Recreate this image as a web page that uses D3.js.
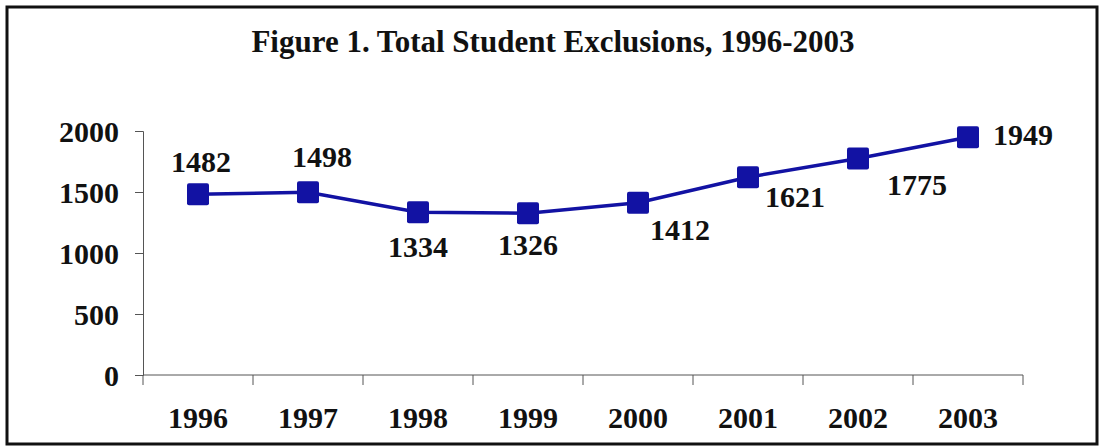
<!DOCTYPE html>
<html>
<head>
<meta charset="utf-8">
<script src="https://cdn.jsdelivr.net/npm/d3@7"></script>
<style>
  body { margin: 0; background: #fff; }
  svg text { font-family: "Liberation Serif", "Times New Roman", serif; font-weight: bold; fill: #111; }
</style>
</head>
<body>
<svg id="chart"></svg>
<script>
// values
const years = ['1996', '1997', '1998', '1999', '2000', '2001', '2002', '2003'];
const exclusions = [1482, 1498, 1334, 1326, 1412, 1621, 1775, 1949];
const yTicks = [0, 500, 1000, 1500, 2000];

// where each value label sits relative to its marker (layout only)
const labelDx = [3, 14, 0, 0, 42, 47, 59, 55];
const labelDy = [-22, -25, 45, 42, 37, 30, 37, 8];

const width = 1104, height = 448;
const svg = d3.select('#chart').attr('width', width).attr('height', height);

// outer frame
svg.append('rect')
  .attr('x', 7).attr('y', 7)
  .attr('width', 1090).attr('height', 437)
  .attr('fill', 'none').attr('stroke', '#111').attr('stroke-width', 3);

svg.append('text')
  .attr('x', 553).attr('y', 52)
  .attr('text-anchor', 'middle')
  .style('font-size', '31px')
  .text('Figure 1. Total Student Exclusions, 1996-2003');

const x = d3.scaleBand().domain(years).range([143, 1023]);
const y = d3.scaleLinear().domain([0, 2000]).range([375, 131]);

// y axis
const yAxis = svg.append('g')
  .attr('transform', 'translate(143,0)')
  .call(d3.axisLeft(y).tickValues(yTicks).tickFormat(d3.format('d')).tickSize(8).tickPadding(16));
yAxis.selectAll('line, path').attr('stroke', '#555');
yAxis.selectAll('text').style('font-size', '30px').attr('dy', '0.35em');

// x axis, ticks between categories
const xAxis = svg.append('g').attr('transform', 'translate(0,375)');
xAxis.append('line')
  .attr('x1', x.range()[0]).attr('x2', x.range()[1])
  .attr('stroke', '#555');
xAxis.selectAll('.tk')
  .data(years.concat(['end']))
  .enter().append('line')
  .attr('x1', (d, i) => x.range()[0] + i * x.step())
  .attr('x2', (d, i) => x.range()[0] + i * x.step())
  .attr('y1', 0).attr('y2', 10)
  .attr('stroke', '#555');
xAxis.selectAll('text')
  .data(years)
  .enter().append('text')
  .attr('x', d => x(d) + x.bandwidth() / 2)
  .attr('y', 53)
  .attr('text-anchor', 'middle')
  .style('font-size', '30px')
  .text(d => d);

const cx = (d, i) => x(years[i]) + x.bandwidth() / 2;

svg.append('path')
  .datum(exclusions)
  .attr('fill', 'none')
  .attr('stroke', '#1212a3')
  .attr('stroke-width', 3.5)
  .attr('d', d3.line().x(cx).y(d => y(d)));

const m = 22;
svg.selectAll('.marker')
  .data(exclusions)
  .enter().append('rect')
  .attr('x', (d, i) => cx(d, i) - m / 2)
  .attr('y', d => y(d) - m / 2)
  .attr('width', m).attr('height', m)
  .attr('rx', 2)
  .attr('fill', '#1212a3');

svg.selectAll('.val')
  .data(exclusions)
  .enter().append('text')
  .attr('x', (d, i) => cx(d, i) + labelDx[i])
  .attr('y', (d, i) => y(d) + labelDy[i])
  .attr('text-anchor', 'middle')
  .style('font-size', '30px')
  .text(d => d);
</script>
</body>
</html>
